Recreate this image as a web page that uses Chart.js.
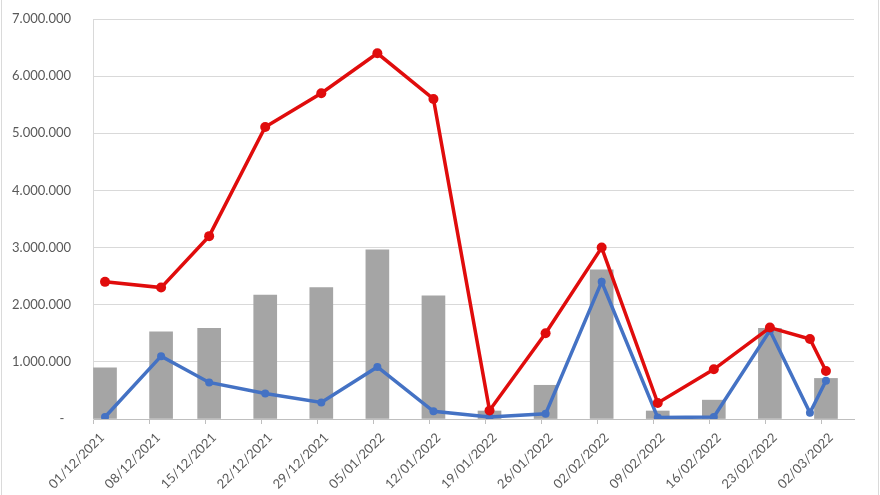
<!DOCTYPE html>
<html>
<head>
<meta charset="utf-8">
<script src="https://cdn.jsdelivr.net/npm/chart.js@4.4.1/dist/chart.umd.min.js"></script>
<style>
    html, body { margin: 0; padding: 0; background: #ffffff; }
    #wrap { position: relative; width: 880px; height: 495px; }
    #frame { position: absolute; left: 1px; top: 0; width: 876px; height: 495px;
             border-left: 1px solid #dadada; border-right: 1px solid #dadada; pointer-events: none; }
</style>
</head>
<body>
<div id="wrap">
    <canvas id="mainChart" width="880" height="495"></canvas>
    <div id="frame"></div>
</div>
<script>
// Axis tick labels (weekly) and axis end
const tickLabels = ['01/12/2021', '08/12/2021', '15/12/2021', '22/12/2021', '29/12/2021', '05/01/2022', '12/01/2022',
    '19/01/2022', '26/01/2022', '02/02/2022', '09/02/2022', '16/02/2022', '23/02/2022', '02/03/2022'];
const axisEndDate = '06/03/2022';

// Dates of the data points
const pointDates = ['02/12/2021', '09/12/2021', '15/12/2021', '22/12/2021', '29/12/2021', '05/01/2022', '12/01/2022',
    '19/01/2022', '26/01/2022', '02/02/2022', '09/02/2022', '16/02/2022', '23/02/2022', '28/02/2022', '02/03/2022'];

// Series values
const barValues  = [895000, 1525000, 1585000, 2170000, 2300000, 2960000, 2155000, 140000, 590000, 2610000, 140000, 330000, 1585000, null, 710000];
const redValues  = [2400000, 2300000, 3200000, 5110000, 5700000, 6400000, 5600000, 150000, 1500000, 3000000, 280000, 870000, 1600000, 1400000, 840000];
const blueValues = [35000, 1100000, 640000, 445000, 290000, 910000, 135000, 35000, 90000, 2400000, 25000, 35000, 1550000, 110000, 670000];

// day offset from the first tick date
function dayOffset(str) {
    const p = str.split('/');
    const t = Date.UTC(+p[2], +p[1] - 1, +p[0]);
    const q = tickLabels[0].split('/');
    const t0 = Date.UTC(+q[2], +q[1] - 1, +q[0]);
    return Math.round((t - t0) / 86400000);
}

// each date occupies a one-day slot, marks sit in the middle of it
function toPoints(values) {
    const pts = [];
    values.forEach((v, i) => {
        if (v !== null) pts.push({ x: dayOffset(pointDates[i]) + 0.5, y: v });
    });
    return pts;
}

function fmt(v) {
    if (v === 0) return '-  ';
    return String(Math.round(v)).replace(/\B(?=(\d{3})+(?!\d))/g, '.');
}

const labelFont = { family: 'Lato, "Open Sans", sans-serif', size: 13 };

new Chart(document.getElementById('mainChart').getContext('2d'), {
    type: 'line',
    data: {
        datasets: [
            {
                type: 'line',
                data: toPoints(redValues),
                borderColor: '#e00c0c',
                backgroundColor: '#e00c0c',
                borderWidth: 3.5,
                pointRadius: 5,
                pointBorderWidth: 0,
                tension: 0,
                order: 1
            },
            {
                type: 'line',
                data: toPoints(blueValues),
                borderColor: '#4472c4',
                backgroundColor: '#4472c4',
                borderWidth: 3.5,
                pointRadius: 4,
                pointBorderWidth: 0,
                tension: 0,
                order: 2
            },
            {
                type: 'bar',
                data: toPoints(barValues),
                backgroundColor: '#a5a5a5',
                barThickness: 23,
                order: 3
            }
        ]
    },
    options: {
        responsive: false,
        animation: false,
        layout: { padding: { left: 4, right: 26, top: 19, bottom: 0 } },
        plugins: {
            legend: { display: false },
            tooltip: { enabled: false }
        },
        scales: {
            x: {
                type: 'linear',
                min: 0,
                max: dayOffset(axisEndDate),
                offset: false,
                afterBuildTicks: scale => {
                    scale.ticks = tickLabels.map(l => ({ value: dayOffset(l) }));
                },
                afterFit: scale => { scale.height = 76; },
                grid: {
                    drawOnChartArea: false,
                    drawTicks: true,
                    tickLength: 5,
                    color: '#bfbfbf',
                    offset: false
                },
                border: { display: true, color: '#bfbfbf', width: 1 },
                ticks: {
                    autoSkip: false,
                    minRotation: 45,
                    maxRotation: 45,
                    padding: 6,
                    labelOffset: 9,
                    color: '#595959',
                    font: labelFont,
                    callback: (v, i) => tickLabels[i]
                }
            },
            y: {
                min: 0,
                max: 7000000,
                afterFit: scale => { scale.width = 89; },
                // invisible tick marks keep the labels away from the axis line
                grid: { color: '#d9d9d9', drawTicks: true, tickLength: 21, tickColor: 'rgba(0,0,0,0)' },
                border: { display: true, color: '#d9d9d9' },
                ticks: {
                    stepSize: 1000000,
                    padding: 1,
                    color: '#595959',
                    font: labelFont,
                    callback: v => fmt(v)
                }
            }
        }
    }
});
</script>
</body>
</html>
